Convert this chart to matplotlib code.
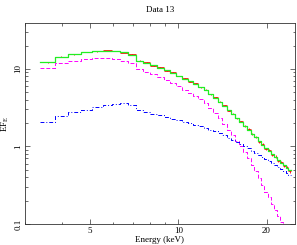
import numpy as np
import matplotlib
matplotlib.use("Agg")
import matplotlib.pyplot as plt
from matplotlib.ticker import FixedLocator, NullFormatter, FixedFormatter

# bin edges (keV)
edges = [3.38, 3.80, 4.20, 4.65, 5.06, 5.52, 5.93, 6.32, 6.73, 7.18,
         7.60, 8.04, 8.48, 8.92, 9.38, 9.84, 10.30, 10.77, 11.24, 11.72,
         12.20, 12.68, 13.17, 13.66, 14.15, 14.64, 15.14, 15.64, 16.14, 16.64,
         17.14, 17.64, 18.15, 18.66, 19.17, 19.68, 20.19, 20.70, 21.21, 21.72,
         22.23, 22.74, 23.25, 23.76, 24.27]

# total model
total = [12.2, 14.3, 15.5, 16.3, 16.9, 17.2, 17.1, 16.3, 15.2, 12.8,
         12.0, 11.1, 10.4, 9.6, 8.9, 8.2, 7.5, 6.9, 6.4, 5.9,
         5.3, 4.75, 4.26, 3.78, 3.35, 2.95, 2.62, 2.33, 2.08, 1.85,
         1.65, 1.46, 1.31, 1.17, 1.05, 0.95, 0.87, 0.79, 0.73, 0.665,
         0.615, 0.568, 0.533, 0.49]

# data points
data = [12.1, 14.4, 15.4, 16.5, 16.8, 17.4, 17.0, 16.1, 15.4, 12.7,
        12.1, 11.0, 10.5, 9.5, 9.0, 8.1, 7.6, 6.8, 6.5, 5.8,
        5.4, 4.7, 4.3, 3.75, 3.4, 2.9, 2.65, 2.30, 2.10, 1.83,
        1.67, 1.44, 1.33, 1.15, 1.07, 0.93, 0.89, 0.78, 0.74, 0.65,
        0.63, 0.56, 0.54, 0.48]
data_err = [0.15, 0.15, 0.15, 0.15, 0.15, 0.15, 0.15, 0.15, 0.15, 0.13,
            0.13, 0.12, 0.12, 0.11, 0.11, 0.1, 0.1, 0.09, 0.09, 0.08,
            0.08, 0.07, 0.07, 0.06, 0.06, 0.05, 0.05, 0.05, 0.045, 0.04,
            0.04, 0.035, 0.035, 0.03, 0.03, 0.03, 0.03, 0.025, 0.025, 0.025,
            0.025, 0.02, 0.02, 0.02]

# component 1 (dashed magenta)
comp1 = [10.2, 11.8, 12.8, 13.3, 13.7, 13.8, 13.5, 12.7, 11.8, 9.9,
         9.2, 8.5, 7.9, 7.2, 6.6, 6.0, 5.4, 4.9, 4.5, 4.1,
         3.6, 3.1, 2.7, 2.3, 1.95, 1.65, 1.4, 1.18, 1.0, 0.84,
         0.70, 0.58, 0.48, 0.39, 0.32, 0.26, 0.22, 0.18, 0.15, 0.125,
         0.105, 0.088, 0.073, 0.06]

# component 2 (dash-dot blue)
comp2 = [2.07, 2.48, 2.75, 2.98, 3.19, 3.39, 3.56, 3.58, 3.45, 2.92,
         2.78, 2.64, 2.52, 2.40, 2.28, 2.17, 2.07, 1.98, 1.90, 1.81,
         1.73, 1.64, 1.56, 1.48, 1.40, 1.30, 1.22, 1.15, 1.08, 1.01,
         0.95, 0.88, 0.83, 0.78, 0.73, 0.69, 0.65, 0.61, 0.58, 0.54,
         0.51, 0.48, 0.46, 0.43]

edges = np.array(edges)
lo, hi = edges[:-1], edges[1:]
mid = np.sqrt(lo * hi)

plt.rcParams['font.family'] = ['Liberation Serif', 'DejaVu Serif']
fig = plt.figure(figsize=(2.97, 2.45), dpi=100)
ax = fig.add_axes([0.084, 0.086, 0.909, 0.82])


def steps(vals):
    v = np.array(vals)
    return np.append(v, v[-1])


ax.hlines(data, lo, hi, color='red', lw=0.6)
ax.vlines(mid, np.array(data) - np.array(data_err), np.array(data) + np.array(data_err),
          color='red', lw=0.6)
ax.step(edges, steps(total), where='post', color='#22ee22', lw=0.9)
ax.step(edges, steps(comp1), where='post', color='magenta', lw=0.7, ls=(0, (4, 2)))
ax.step(edges, steps(comp2), where='post', color='blue', lw=0.7, ls=(0, (4, 2, 1, 2)))

ax.set_xscale('log')
ax.set_yscale('log')
ax.set_xlim(3, 25)
ax.set_ylim(0.1, 39)

ax.xaxis.set_major_locator(FixedLocator([5, 10, 20]))
ax.xaxis.set_major_formatter(FixedFormatter(['5', '10', '20']))
ax.xaxis.set_minor_locator(FixedLocator([3, 4, 6, 7, 8, 9, 30]))
ax.xaxis.set_minor_formatter(NullFormatter())
ax.yaxis.set_major_locator(FixedLocator([0.1, 1, 10]))
ax.yaxis.set_major_formatter(FixedFormatter(['0.1', '1', '10']))
ax.yaxis.set_minor_formatter(NullFormatter())

ax.tick_params(which='both', direction='in', top=True, right=True,
               labelsize=6.5, width=0.5, colors='#333333', labelcolor='black', pad=2)
ax.tick_params(which='major', length=3.5)
ax.tick_params(which='minor', length=1.8)
for lab in ax.get_yticklabels():
    lab.set_rotation(90)
    lab.set_va('center')
for sp in ax.spines.values():
    sp.set_linewidth(0.6)
    sp.set_color('#333333')

ax.set_title('Data 13', fontsize=6.5, pad=8)
ax.set_xlabel('Energy (keV)', fontsize=6.5, labelpad=1)
ax.set_ylabel(r'EF$_\mathregular{E}$', fontsize=6.5, labelpad=2)

fig.savefig('out.png', dpi=100)
